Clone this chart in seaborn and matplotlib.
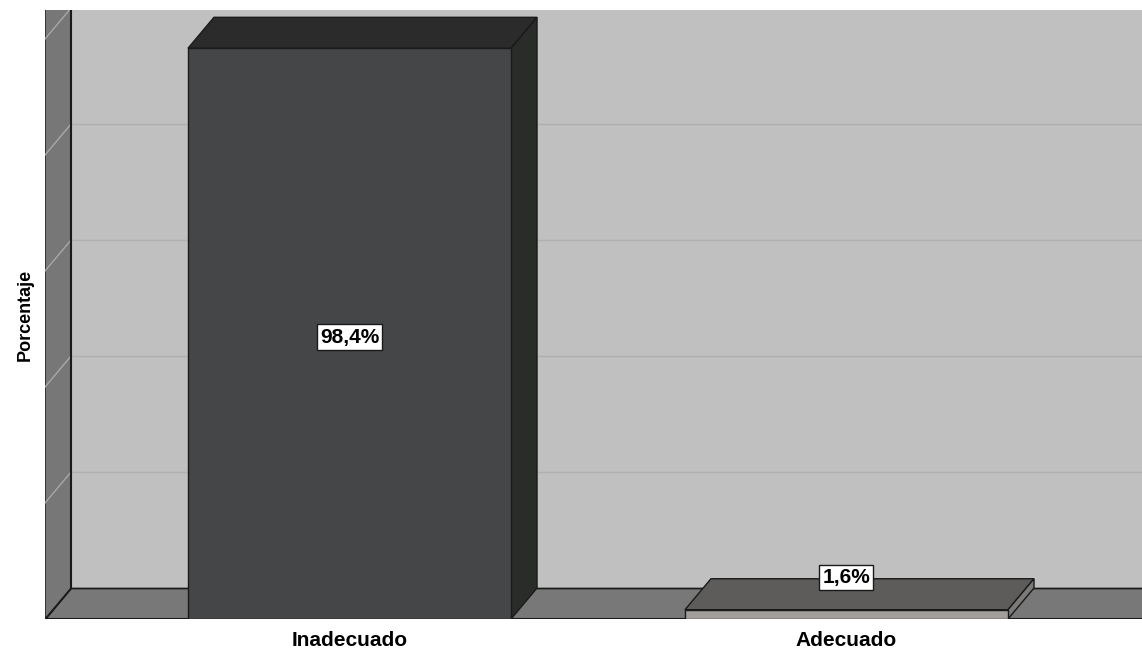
import matplotlib
matplotlib.use("Agg")
import matplotlib.pyplot as plt
from matplotlib.patches import Polygon
import seaborn as sns
import pandas as pd

# datos
niveles = ["Inadecuado", "Adecuado"]
porcentajes = [98.4, 1.6]
etiquetas = [f"{v:.1f}%".replace(".", ",") for v in porcentajes]

color_frente = ["#454648", "#a29e9a"]
color_arriba = ["#2b2b2b", "#5d5c5a"]
color_lado = ["#2a2c2a", "#7c7a78"]
borde = "#1a1a1a"

df = pd.DataFrame({"Nivel": niveles, "Porcentaje": porcentajes})

plt.rcParams["font.family"] = ["Liberation Sans", "DejaVu Sans"]

fig = plt.figure(figsize=(11.42, 6.5), dpi=100)
ax = fig.add_axes([45 / 1142, 31 / 650, 1097 / 1142, 609 / 650])
ax.set_facecolor("#c0c0c0")

sns.barplot(data=df, x="Nivel", y="Porcentaje", hue="Nivel", palette=color_frente,
            width=0.65, edgecolor=borde, linewidth=1, legend=False, ax=ax, zorder=4)

x0, x1 = -0.6127, 1.5946
y_top = 105.0
dx, dy = 0.0523, 5.34
ax.set_xlim(x0, x1)
ax.set_ylim(0, y_top)

# piso y pared izquierda
ax.add_patch(Polygon([(x0, 0), (x1 + 1, 0), (x1 + 1, dy), (x0 + dx, dy)],
                     closed=True, facecolor="#787878", edgecolor=borde, lw=1, zorder=1))
ax.add_patch(Polygon([(x0, 0), (x0 + dx, dy), (x0 + dx, y_top + 10), (x0, y_top + 10)],
                     closed=True, facecolor="#777777", edgecolor=borde, lw=1, zorder=1))

# lineas de cuadricula
for g in [20, 40, 60, 80, 100]:
    ax.plot([x0 + dx, x1], [g + dy, g + dy], color="#b0b0b0", lw=1, zorder=0.5)
    ax.plot([x0, x0 + dx], [g, g + dy], color="#a8a8a8", lw=1, zorder=1.5)
ax.plot([x0 + dx, x0 + dx], [dy, y_top], color=borde, lw=1.5, zorder=1.6)
ax.plot([x0 + dx, x1], [dy, dy], color=borde, lw=1, zorder=1.6)

# caras superior y lateral de cada barra
for i, p in enumerate(ax.patches[:len(niveles)]):
    bx, bw, bh = p.get_x(), p.get_width(), p.get_height()
    top = [(bx, bh), (bx + dx, bh + dy), (bx + bw + dx, bh + dy), (bx + bw, bh)]
    side = [(bx + bw, 0), (bx + bw + dx, dy), (bx + bw + dx, bh + dy), (bx + bw, bh)]
    ax.add_patch(Polygon(top, closed=True, facecolor=color_arriba[i], edgecolor=borde,
                         lw=1, zorder=3.5))
    ax.add_patch(Polygon(side, closed=True, facecolor=color_lado[i], edgecolor=borde,
                         lw=1, zorder=3.5))

for i, v in enumerate(porcentajes):
    y_lab = v / 2 - 0.6 if v > 10 else v + dy * 1.05
    ax.text(i, y_lab, etiquetas[i], ha="center", va="center",
            fontsize=15, fontweight="bold", zorder=6,
            bbox=dict(boxstyle="square,pad=0.15", facecolor="white", edgecolor=borde, lw=1))

ax.axhline(0, color=borde, lw=1.5, zorder=2)
ax.set_xlabel("")
ax.set_ylabel("Porcentaje", fontsize=13, fontweight="bold", labelpad=8)
ax.set_yticks([])
ax.tick_params(axis="x", length=0, pad=9, labelsize=15)
for lab in ax.get_xticklabels():
    lab.set_fontweight("bold")
for s in ax.spines.values():
    s.set_visible(False)

fig.savefig("out.png", dpi=100)
